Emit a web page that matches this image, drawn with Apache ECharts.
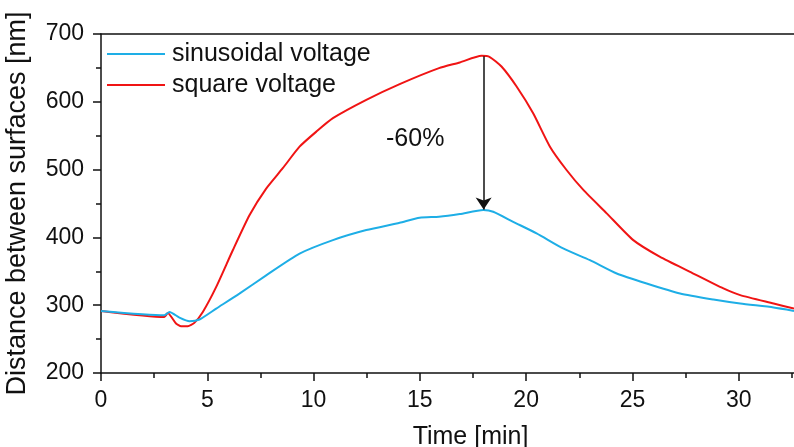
<!DOCTYPE html>
<html>
<head>
<meta charset="utf-8">
<script src="https://cdn.jsdelivr.net/npm/echarts@6/dist/echarts.min.js"></script>
<style>html,body{margin:0;padding:0;background:#fff}#c{width:794px;height:447px}</style>
</head>
<body>
<div id="c"></div>
<script>
const seriesNames = ['sinusoidal voltage', 'square voltage'];
const sinT = [0, 2.98, 3.22, 3.69, 4.16, 4.63, 5.42, 6.51, 7.77, 9.34, 10.91, 12.48, 14.05, 14.99, 15.9, 16.88, 17.98, 18.45, 19.39, 20.49, 21.74, 23.0, 24.26, 25.67, 27.24, 28.81, 30.07, 31.64, 32.6];
const sinV = [291.6, 285.2, 290, 281.8, 276.4, 278.9, 295, 317, 344, 376, 396, 410.8, 421.6, 429, 430.4, 434.4, 440.3, 437.8, 423, 406, 383.7, 366.5, 346.8, 332, 317.3, 308.4, 302.5, 296.6, 291.6];
const sqT = [0, 2.98, 3.14, 3.53, 3.77, 4.08, 4.39, 4.79, 5.42, 6.2, 6.99, 7.77, 8.55, 9.34, 10.13, 10.91, 12.48, 14.05, 15.9, 16.88, 17.9, 18.29, 18.84, 19.55, 20.33, 21.12, 21.9, 22.69, 23.79, 25.04, 26.3, 27.71, 29.28, 30.07, 31.64, 32.6];
const sqV = [291.6, 282.7, 288.6, 273, 269, 269, 273.9, 290, 327, 381, 433, 472, 502, 533.8, 556, 575.8, 602.8, 626, 649.6, 658, 667.8, 666, 652, 622.5, 583, 533.8, 499.4, 470, 435.5, 396, 371.3, 349.2, 324.7, 314.8, 302.5, 295];
const xMajorTicks = [0, 5, 10, 15, 20, 25, 30];
const xMinorTicks = [2.5, 7.5, 12.5, 17.5, 22.5, 27.5, 32.5];
const xRange = [0, 32.6];
const yTicks = {min: 200, max: 700, interval: 100};
const arrowX = 18;
const arrowFrom = 667;
const arrowTo = 441;
const annotationText = '-60%';

const pairs = (t, v) => t.map((x, i) => [x, v[i]]);
const FONT = 'Liberation Sans, Arial, sans-serif';
const chart = echarts.init(document.getElementById('c'), null, {renderer: 'canvas'});
const axisLineStyle = {color: '#111', width: 1.5};
chart.setOption({
  animation: false,
  backgroundColor: '#fff',
  grid: {left: 101, top: 34, bottom: 74, right: 0, containLabel: false, outerBoundsMode: 'none'},
  legend: {
    data: seriesNames,
    orient: 'vertical',
    left: 107, top: 40,
    icon: 'rect', itemWidth: 58, itemHeight: 2, itemGap: 3, itemStyle: {borderWidth: 0},
    textStyle: {fontFamily: FONT, fontSize: 25, color: '#111', lineHeight: 28, padding: [0, 0, 0, 2]},
    padding: 0
  },
  xAxis: [{
    type: 'value', position: 'bottom',
    min: xRange[0], max: xRange[1],
    name: 'Time [min]', nameLocation: 'middle', nameGap: 52,
    nameTextStyle: {fontFamily: FONT, fontSize: 25, color: '#111', padding: [0, 0, 0, 46]},
    axisLine: {show: true, onZero: false, lineStyle: axisLineStyle},
    axisTick: {show: true, inside: false, length: 8, lineStyle: axisLineStyle, customValues: xMajorTicks},
    axisLabel: {fontFamily: FONT, fontSize: 23, color: '#111', margin: 16, customValues: xMajorTicks},
    splitLine: {show: false}
  }, {
    type: 'value', position: 'bottom',
    min: xRange[0], max: xRange[1],
    axisLine: {show: false},
    axisTick: {show: true, inside: false, length: 5, lineStyle: axisLineStyle, customValues: xMinorTicks},
    axisLabel: {show: false}, splitLine: {show: false}
  }, {
    type: 'value', position: 'top',
    min: xRange[0], max: xRange[1],
    axisLine: {show: true, onZero: false, lineStyle: axisLineStyle},
    axisTick: {show: false}, axisLabel: {show: false}, splitLine: {show: false}
  }],
  yAxis: {
    type: 'value', min: yTicks.min, max: yTicks.max, interval: yTicks.interval,
    name: 'Distance between surfaces [nm]', nameLocation: 'middle', nameGap: 70,
    nameTextStyle: {fontFamily: FONT, fontSize: 27, color: '#111'},
    axisLine: {show: true, onZero: false, lineStyle: axisLineStyle},
    axisTick: {show: true, inside: false, length: 8, lineStyle: axisLineStyle},
    minorTick: {show: true, splitNumber: 2, length: 5, lineStyle: axisLineStyle},
    axisLabel: {fontFamily: FONT, fontSize: 23, color: '#111', margin: 17},
    splitLine: {show: false}
  },
  series: [{
    name: seriesNames[1], type: 'line', data: pairs(sqT, sqV),
    showSymbol: false, symbol: 'none', smooth: 0.2,
    lineStyle: {color: '#F01414', width: 2}, itemStyle: {color: '#F01414'},
    z: 2
  }, {
    name: seriesNames[0], type: 'line', data: pairs(sinT, sinV),
    showSymbol: false, symbol: 'none', smooth: 0.2,
    lineStyle: {color: '#1EAEE6', width: 2}, itemStyle: {color: '#1EAEE6'},
    z: 3,
    markLine: {
      silent: true, animation: false,
      symbol: ['none', 'arrow'], symbolSize: 12,
      label: {show: false},
      lineStyle: {color: '#111', width: 1.5, type: 'solid'},
      itemStyle: {color: '#111'},
      emphasis: {disabled: true},
      data: [[{coord: [arrowX, arrowFrom]}, {coord: [arrowX, arrowTo]}]]
    }
  }],
  graphic: [{
    type: 'text', left: 386, top: 127,
    style: {text: annotationText, fontFamily: FONT, fontSize: 25, fill: '#111'}
  }]
});
</script>
</body>
</html>
